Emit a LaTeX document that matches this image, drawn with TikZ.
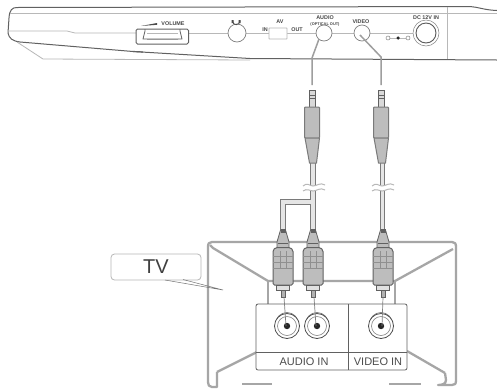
\documentclass[tikz,border=0pt]{standalone}
\usepackage{fontspec}
\setmainfont{Liberation Sans}
\definecolor{lg}{gray}{0.72}
\definecolor{mg}{gray}{0.62}
\definecolor{dg}{gray}{0.38}
\definecolor{bodyg}{gray}{0.74}
\tikzset{
  x=1pt,y=-1pt,
  thinl/.style={draw=lg,line width=0.8pt},
  tvl/.style={draw=black!35,line width=2.3pt,line join=round},
  dark/.style={draw=dg,line width=1pt,line join=round},
  panel/.style={draw=dg,line width=0.8pt},
  lab/.style={font=\bfseries\fontsize{5.4}{6}\selectfont,text=black!72,inner sep=0pt},
  port/.style={draw=black!50,line width=0.7pt,circle,fill=white,inner sep=0pt},
  cableout/.style={draw=black!52,line width=5.6pt,line join=miter},
  cablein/.style={draw=black!10,line width=3.6pt,line join=miter},
}
\newcommand{\jackplug}[2]{%
 \begin{scope}[shift={(#1,#2)}]
  \fill[black!15,draw=dg,line width=.7pt] (-3,-32) rectangle (3,-15);
  \draw[dg,line width=.7pt] (-3,-27)--(3,-27) (-3,-24)--(3,-24);
  \fill[bodyg,draw=black!52,line width=1pt,rounded corners=.8pt] (-7.5,-15) rectangle (7.5,16);
  \fill[bodyg,draw=black!52,line width=1pt,line join=round] (-7,16)--(7.5,16)--(4.5,41)--(-2.5,41)--cycle;
 \end{scope}}
\newcommand{\rcaplug}[2]{%
 \begin{scope}[shift={(#1,#2)}]
  \fill[bodyg,draw=dg,line width=.8pt,line join=round] (-2.5,-20)--(2.5,-20)--(6,-8)--(6,-2)--(-6,-2)--(-6,-8)--cycle;
  \fill[dg] (-2.5,-21) rectangle (2.5,-17);
  \draw[dg,line width=.8pt] (-5,-7)--(5,-7);
  \fill[bodyg,draw=dg,line width=1pt,rounded corners=1.5pt] (-10,0) -- (-7,-2.5) -- (7,-2.5) -- (10,0) -- (10,35) -- (-10,35) -- cycle;
  \draw[dg!70!white,line width=.5pt] (-10,6)--(10,6) (-10,12)--(10,12) (-10,18)--(10,18);
  \draw[dg!70!white,line width=.5pt] (-3,1)--(-3,18) (3,1)--(3,18);
  \fill[black!12,draw=dg,line width=.8pt] (-6.5,35) rectangle (6.5,40);
  \fill[black!30,draw=dg,line width=.7pt] (-2,40) rectangle (2,47);
 \end{scope}}
\newcommand{\tvjack}[2]{%
  \draw[black!55,line width=.7pt,fill=white] (#1,#2-2) circle (11.5);
  \draw[black!70,line width=.8pt,fill=white] (#1,#2) circle (12.5);
  \draw[black!50,line width=.6pt] (#1,#2) circle (9.5);
  \fill[black!85] (#1,#2) circle (3.2);
}
\begin{document}
\begin{tikzpicture}
\useasboundingbox (0,0) rectangle (497,389);
\fill[white] (0,0) rectangle (497,389);
% device body
\draw[dark] (8,33) -- (9,18) .. controls (9.5,10) and (12,7.5) .. (17,7.5) -- (470,6.5) .. controls (478,7) and (484,10) .. (497,10.5);
\draw[thinl] (10,13.5)--(497,13.5);
\draw[dark] (8,33) .. controls (9,38) and (12,41) .. (20,42) -- (133,51.5) -- (250,58.5) -- (497,60);
\draw[thinl] (8,31)--(67,31) -- (75,33) -- (136,33);
\draw[thinl] (189,33)--(228,33) (246,33)--(269,33) (287,33)--(316,33) (332,33)--(354,33);
\draw[thinl] (370,33)--(413,33);
\draw[thinl] (17,42) -- (43,59) -- (250,60);
\draw[dark,line width=1.2pt] (133,51.5)--(143,52);
\draw[thinl] (447,7)--(447,59);
% volume
\draw[dark,rounded corners=1.5pt,fill=white] (136,29) rectangle (188.5,44);
\draw[thinl] (147,33.5)--(178,33.5) (147,39)--(178,39);
\draw[dark,line width=.8pt] (145,29)--(145,31) -- (143,39) -- (178,39);
\draw[dark,line width=.8pt] (180,29)--(180,31) -- (182,39) -- (178,39);
\fill[black!70] (141,26) -- (157,23) -- (157,24.8) -- cycle;
\node[lab] (vol) at (173,24) {VOLUME};
% headphone
\node[port,minimum size=18pt] (hp) at (237,33) {};
\draw[black!70,line width=.8pt] (232.5,21) arc (180:0:3.7);
\fill[black!70] (231.5,20) rectangle (233.5,23) (238.5,20) rectangle (240.5,23);
% AV
\node[lab] (av) at (280,22) {AV};
\node[lab] (avin) at (265,29.5) {IN};
\node[lab] (avout) at (297,29.5) {OUT};
\node[draw=lg,line width=.8pt,rounded corners=.5pt,minimum width=18pt,minimum height=11pt,inner sep=0pt,fill=white] (sw) at (278,33.5) {};
% audio, video
\node[lab] (aud) at (325,18) {AUDIO};
\node[lab,font=\bfseries\fontsize{3.9}{4}\selectfont] (opt) at (325,24) {(OPTICAL OUT)};
\node[port,minimum size=16pt] (ap) at (324,33) {};
\node[lab] (vid) at (361,22) {VIDEO};
\node[port,minimum size=16pt] (vp) at (362,33) {};
% dc
\draw[thinl] (388,38)--(408,38);
\node[draw=black!50,circle,line width=.5pt,fill=white,minimum size=4pt,inner sep=0pt] (d1) at (388,38) {};
\node[fill=black!85,circle,minimum size=3.5pt,inner sep=0pt] (d2) at (398,38) {};
\node[draw=black!50,circle,line width=.5pt,fill=white,minimum size=4pt,inner sep=0pt] (d3) at (408,38) {};
\draw[black!50,line width=.5pt,fill=white] (426,33) circle (13);
\draw[black!65,line width=.9pt] (426,33) circle (10);
\node[lab] (dc) at (426,18) {DC 12V IN};
% cables to device
\draw[mg,line width=1.5pt] (319,39)--(312,58)--(312,85);
\draw[mg,line width=1.5pt] (360,35)--(381,57)--(381,85);
% lower cables
\draw[cableout] (313,202)--(283,202)--(283,232);
\foreach \x in {313,382.5}{
  \draw[cableout] (\x,160)--(\x,232);
}
\draw[cablein] (313,202)--(283,202)--(283,232);
\foreach \x in {313,382.5}{
  \draw[cablein] (\x,160)--(\x,232);
}
\jackplug{312}{122}
\jackplug{381}{122}
% breaks
\foreach \x in {313,382}{
  \fill[white] (\x-10,186) .. controls (\x-6,182) and (\x-3,186) .. (\x,186) .. controls (\x+4,186) and (\x+7,182) .. (\x+12,185) -- (\x+12,190) .. controls (\x+7,187) and (\x+4,191) .. (\x,191) .. controls (\x-3,191) and (\x-6,188) .. (\x-10,191) -- cycle;
  \draw[lg,line width=1pt] (\x-10,186) .. controls (\x-6,182) and (\x-3,186) .. (\x,186) .. controls (\x+4,186) and (\x+7,182) .. (\x+12,185);
  \draw[lg,line width=1pt] (\x-10,191) .. controls (\x-6,188) and (\x-3,191) .. (\x,191) .. controls (\x+4,191) and (\x+7,187) .. (\x+12,190);
}
% TV
\draw[tvl] (217,372) -- (217,387) -- (212,387) .. controls (209,387) and (208,385) .. (208,382) -- (208,247) .. controls (208,243.5) and (209,242) .. (212,242) -- (452,242) .. controls (455,242) and (456,243.5) .. (456,247) -- (456,380) .. controls (456,384) and (455,385) .. (452,385) -- (438,385) .. controls (442,385) and (446,384) .. (446,380) -- (445,373);
\draw[tvl] (210,245) -- (213,248) -- (268,281) -- (395,281) -- (453,249);
\draw[tvl] (268,281) -- (268,306) (395,281)--(395,306);
\draw[tvl] (257,352) -- (217,372);
\draw[tvl] (407,351) -- (445,373);
\draw[tvl] (242,384) -- (272,384) (389,384)--(421,384);
\rcaplug{283}{250}
\rcaplug{313}{250}
\rcaplug{383}{250}
% panel
\draw[panel,rounded corners=2pt,fill=white] (256,304) rectangle (407,370);
\draw[panel] (256,352)--(407,352) (348,304)--(348,370);
\tvjack{287}{326}
\tvjack{317}{326}
\tvjack{381}{326}
\draw[black!50,line width=.7pt] (284,297)--(286,326) (314,297)--(316,326) (383,297)--(382,326);
\node[font=\fontsize{11}{12}\selectfont,text=black!70,inner sep=0pt] (ain) at (304,362) {AUDIO IN};
\node[font=\fontsize{11}{12}\selectfont,text=black!70,inner sep=0pt] (vin) at (378,362) {VIDEO IN};
% TV label
\node[draw=lg,line width=.8pt,rounded corners=3.5pt,minimum width=90pt,minimum height=26pt,inner sep=0pt,font=\fontsize{20}{22}\selectfont,text=black!75,fill=white] (tv) at (156,267) {TV};
\coordinate (tip) at (223,290);
\draw[black!55,line width=.5pt] (165,280) -- (tip) -- (183,279.5);
\end{tikzpicture}
\end{document}
